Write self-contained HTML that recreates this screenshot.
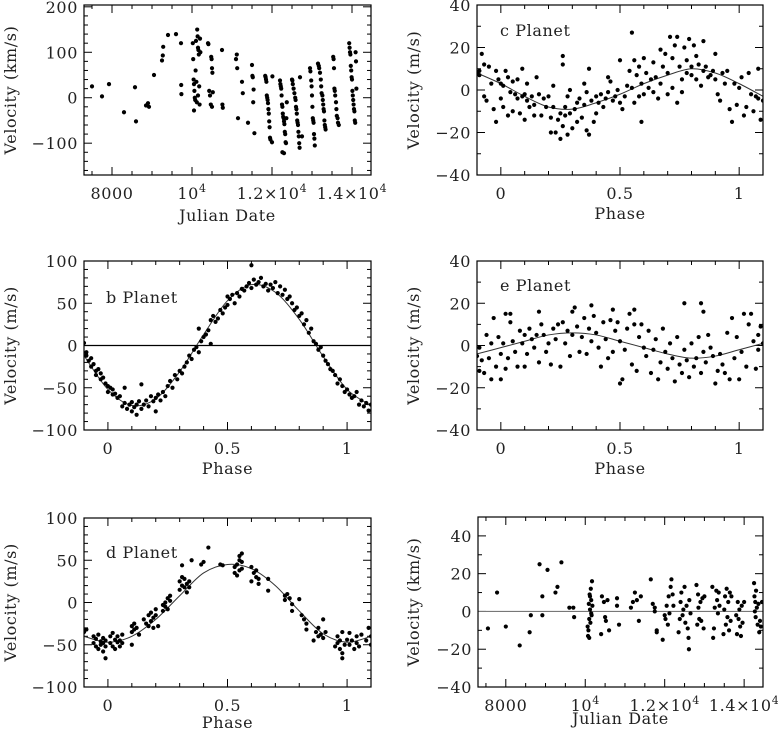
<!DOCTYPE html>
<html><head><meta charset="utf-8">
<style>
html,body{margin:0;padding:0;background:#fff;}
svg{display:block;font-family:"DejaVu Serif","Liberation Serif",serif;}
text{letter-spacing:0.6px;}
</style></head>
<body>
<svg id="fig" width="778" height="730" viewBox="0 0 778 730" xmlns="http://www.w3.org/2000/svg"></svg>
<script>
// ---------- DATA ----------
const jdPoints = [[7500,25],[7750,3],[7925,30],[8300,-32],[8575,23],[8600,-52],[8850,-17],[8900,-12],[8925,-20],[9050,50],[9250,82],[9270,93],[9280,112],[9400,138],[9600,140],[9725,120],[9730,28],[9735,8],
[10020,120],[10030,85],[10040,40],[10050,30],[10060,15],[10050,-28],[10070,0],[10080,-5],[10090,60],[10100,125],[10110,35],[10120,-10],[10130,150],[10140,135],[10150,110],[10160,105],[10170,95],[10180,25],[10190,-15],[10200,130],[10210,100],[10150,5],
[10400,120],[10410,118],[10430,15],[10450,5],[10480,90],[10490,85],[10500,65],[10510,55],[10520,12],[10470,-15],[10500,-20],
[10750,105],[10760,-15],[10770,-22],[11100,85],[11120,95],[11130,65],[11150,-45],[11250,35],[11270,10],[11400,-55],[11500,72],[11510,48],[11520,45],[11530,-10],[11540,18],[11560,-78],
[11830,48],[11840,45],[11850,40],[11860,35],[11870,5],[11880,0],[11890,-5],[11900,-12],[11910,-25],[11920,-35],[11930,-52],[11940,-65],[11950,-88],[11960,-92],[12000,-98],[12010,47],
[12200,38],[12210,30],[12220,25],[12230,20],[12240,5],[12250,-15],[12260,-20],[12270,-35],[12280,-42],[12290,-45],[12300,-52],[12310,-58],[12320,-75],[12330,-80],[12340,-98],[12350,-100],[12260,-120],[12300,-122],[12370,-10],[12360,-45],
[12500,40],[12510,38],[12520,30],[12540,20],[12560,10],[12580,0],[12590,-5],[12600,-20],[12610,-25],[12620,-35],[12630,-50],[12640,-55],[12650,-60],[12660,-75],[12670,-85],[12680,-100],[12690,-110],[12700,45],[12750,-85],
[12950,65],[12960,58],[12980,38],[12990,25],[13000,5],[13010,-20],[13020,-45],[13030,-50],[13040,-55],[13050,-80],[13060,-90],[13070,-105],
[13150,75],[13170,70],[13180,65],[13200,55],[13220,40],[13230,25],[13240,10],[13260,5],[13270,-5],[13280,-15],[13290,-25],[13300,-30],[13310,-50],[13320,-60],[13330,-65],[13340,-70],
[13530,90],[13540,85],[13550,65],[13560,20],[13570,15],[13580,5],[13600,-10],[13610,-25],[13620,-40],[13640,-45],[13650,-55],[13670,-60],
[13930,120],[13940,110],[13950,100],[13960,95],[13970,70],[13980,60],[13990,45],[14000,40],[14010,15],[14020,5],[14030,-5],[14040,-15],[14050,-25],[14060,-30],[14070,-50],[14080,-55],[14090,100],[14100,80],[14110,20]];

const cPoints = [[-0.1,8],[-0.09,9],[-0.09,7],[-0.08,17],[-0.07,12],[-0.07,-3],[-0.06,-5],[-0.05,11],[-0.04,3],[-0.03,-9],[-0.02,9],[-0.02,-15],[-0.01,5],[0,3],[0,-4],[0.01,2],[0.01,-8],[0.02,9],[0.03,-12],[0.03,6],[0.04,-1],[0.05,-10],[0.05,4],[0.06,-2],[0.07,-4],[0.07,5],[0.08,-11],[0.09,10],[0.09,-3],[0.1,-2],[0.1,-14],[0.11,3],[0.11,-5],[0.12,-8],[0.13,-3],[0.14,-7],[0.14,-12],[0.15,6],[0.16,-2],[0.17,-12],[0.18,-4],[0.19,-8],[0.2,-3],[0.21,-13],[0.21,-20],[0.22,2],[0.22,-8],[0.23,-20],[0.24,-14],[0.25,-23],[0.25,-11],[0.26,16],[0.26,12],[0.26,-17],[0.27,-8],[0.27,-12],[0.28,-21],[0.28,-3],[0.29,0],[0.29,-11],[0.3,-18],[0.31,-9],[0.32,-6],[0.32,-15],[0.33,-4],[0.34,-13],[0.35,-7],[0.35,3],[0.36,-19],[0.36,-1],[0.37,-21],[0.37,10],[0.38,-5],[0.39,-15],[0.4,-3],[0.4,-11],[0.41,-6],[0.42,-2],[0.43,-8],[0.44,-4],[0.45,6],[0.45,-1],[0.46,4],[0.47,-5],[0.48,-3],[0.49,0],[0.5,-6],[0.5,14],[0.51,-9],[0.52,-3],[0.53,2],[0.54,9],[0.55,27],[0.55,1],[0.56,-6],[0.56,14],[0.57,7],[0.58,11],[0.58,-3],[0.59,-15],[0.59,3],[0.6,15],[0.6,-2],[0.61,8],[0.62,1],[0.63,5],[0.64,13],[0.64,-1],[0.65,6],[0.66,-4],[0.67,19],[0.67,3],[0.68,11],[0.69,17],[0.7,-2],[0.7,8],[0.71,25],[0.72,15],[0.72,1],[0.73,21],[0.74,25],[0.74,-6],[0.75,11],[0.76,-1],[0.76,5],[0.77,20],[0.78,14],[0.78,8],[0.79,24],[0.8,11],[0.8,7],[0.81,21],[0.82,16],[0.82,5],[0.83,12],[0.84,2],[0.85,23],[0.85,9],[0.86,11],[0.87,6],[0.88,7],[0.89,9],[0.9,5],[0.9,17],[0.91,-2],[0.92,-5],[0.93,8],[0.94,3],[0.95,9],[0.96,-9],[0.97,-15],[0.98,3],[0.99,-7],[1.0,1],[1.01,6],[1.02,-12],[1.03,-8],[1.04,8],[1.05,-2],[1.06,-10],[1.07,-3],[1.08,10],[1.08,-4],[1.09,-14],[1.1,-5]];

const bPoints = [[-0.1,3],[-0.09,-8],[-0.09,-12],[-0.08,-18],[-0.07,-15],[-0.07,-25],[-0.06,-22],[-0.05,-30],[-0.05,-35],[-0.04,-28],[-0.03,-33],[-0.03,-40],[-0.02,-38],[-0.01,-45],[0,-48],[0,-55],[0.01,-50],[0.02,-58],[0.02,-52],[0.03,-57],[0.04,-62],[0.05,-60],[0.06,-72],[0.07,-68],[0.07,-50],[0.08,-75],[0.09,-70],[0.1,-78],[0.1,-67],[0.11,-73],[0.12,-82],[0.12,-70],[0.13,-66],[0.14,-46],[0.14,-75],[0.15,-70],[0.16,-65],[0.17,-72],[0.18,-60],[0.19,-66],[0.2,-78],[0.2,-62],[0.21,-58],[0.22,-65],[0.23,-55],[0.24,-60],[0.25,-48],[0.26,-42],[0.27,-50],[0.28,-35],[0.29,-40],[0.3,-30],[0.31,-33],[0.32,-25],[0.33,-20],[0.34,-12],[0.35,-16],[0.36,-5],[0.37,-2],[0.38,20],[0.38,-8],[0.39,5],[0.4,10],[0.41,13],[0.42,18],[0.43,2],[0.43,30],[0.44,35],[0.45,28],[0.46,32],[0.47,42],[0.48,38],[0.49,45],[0.5,48],[0.5,58],[0.51,55],[0.52,60],[0.53,50],[0.54,62],[0.55,58],[0.56,67],[0.57,65],[0.58,70],[0.59,74],[0.6,95],[0.6,68],[0.61,78],[0.62,72],[0.63,75],[0.64,80],[0.65,70],[0.66,73],[0.67,65],[0.68,72],[0.69,68],[0.7,75],[0.71,62],[0.72,70],[0.73,60],[0.74,66],[0.75,55],[0.76,58],[0.77,50],[0.78,42],[0.79,45],[0.8,35],[0.81,38],[0.82,25],[0.83,30],[0.84,15],[0.85,20],[0.86,5],[0.87,2],[0.88,-5],[0.89,-2],[0.9,-12],[0.91,-18],[0.92,-22],[0.93,-28],[0.94,-30],[0.95,-35],[0.96,-45],[0.97,-40],[0.98,-48],[0.99,-55],[1.0,-52],[1.01,-58],[1.02,-62],[1.03,-60],[1.04,-55],[1.05,-70],[1.06,-65],[1.07,-72],[1.08,-68],[1.09,-77],[1.1,-70]];

const ePoints = [[-0.1,-5],[-0.09,-12],[-0.09,-1],[-0.08,-7],[-0.07,-13],[-0.06,5],[-0.05,-6],[-0.04,-16],[-0.04,1],[-0.03,13],[-0.02,-10],[-0.01,4],[0,-4],[0,-16],[0.01,1],[0.02,15],[0.02,-11],[0.03,-6],[0.04,11],[0.04,15],[0.05,2],[0.06,-3],[0.07,-10],[0.08,7],[0.09,1],[0.1,-10],[0.1,5],[0.11,-4],[0.12,8],[0.13,3],[0.14,-1],[0.15,5],[0.16,16],[0.16,-8],[0.17,10],[0.18,5],[0.19,-3],[0.2,1],[0.21,-9],[0.22,8],[0.23,3],[0.24,10],[0.25,-10],[0.26,11],[0.27,1],[0.28,7],[0.29,-5],[0.3,16],[0.3,5],[0.31,18],[0.32,9],[0.33,-3],[0.34,4],[0.35,13],[0.36,-4],[0.37,8],[0.38,19],[0.38,2],[0.39,14],[0.4,6],[0.41,-1],[0.42,-10],[0.43,11],[0.44,3],[0.45,-6],[0.46,12],[0.47,17],[0.47,-3],[0.48,7],[0.49,11],[0.5,-18],[0.5,2],[0.51,-16],[0.52,-2],[0.53,8],[0.54,15],[0.55,-9],[0.56,10],[0.56,17],[0.57,-12],[0.58,4],[0.59,10],[0.6,-1],[0.61,-5],[0.62,7],[0.63,-13],[0.64,-2],[0.65,3],[0.66,-16],[0.67,-8],[0.68,8],[0.69,-3],[0.7,-11],[0.71,1],[0.72,-6],[0.73,-17],[0.74,4],[0.75,-9],[0.76,-13],[0.77,20],[0.77,-2],[0.78,-7],[0.79,-15],[0.8,1],[0.81,-10],[0.82,-6],[0.83,4],[0.84,20],[0.84,-13],[0.85,16],[0.85,-3],[0.86,-8],[0.87,5],[0.88,-1],[0.89,-5],[0.9,-18],[0.91,-12],[0.92,-4],[0.93,-9],[0.94,-13],[0.95,6],[0.96,-16],[0.97,13],[0.98,-6],[0.99,4],[1.0,-16],[1.01,-3],[1.02,15],[1.03,-10],[1.04,10],[1.05,15],[1.06,2],[1.07,-11],[1.08,5],[1.08,-2],[1.09,9],[1.1,1]];

const dPoints = [[-0.1,-35],[-0.09,-32],[-0.06,-40],[-0.06,-48],[-0.05,-52],[-0.05,-43],[-0.04,-38],[-0.04,-55],[-0.03,-46],[-0.03,-50],[-0.02,-42],[-0.02,-58],[-0.02,-48],[-0.01,-52],[-0.01,-66],[-0.01,-45],[0.01,-40],[0.01,-48],[0.02,-36],[0.02,-52],[0.03,-44],[0.03,-55],[0.04,-47],[0.04,-40],[0.05,-52],[0.05,-45],[0.06,-38],[0.06,-48],[0.1,-35],[0.1,-28],[0.1,-50],[0.11,-32],[0.11,-25],[0.12,-30],[0.13,-38],[0.15,-20],[0.16,-25],[0.17,-15],[0.17,-28],[0.18,-22],[0.18,-12],[0.19,-18],[0.19,-30],[0.2,-8],[0.2,-15],[0.21,-28],[0.23,-10],[0.23,-3],[0.24,-5],[0.24,0],[0.25,5],[0.25,-8],[0.26,2],[0.26,8],[0.3,15],[0.3,25],[0.31,20],[0.31,44],[0.31,30],[0.32,18],[0.32,28],[0.33,22],[0.33,12],[0.34,25],[0.34,18],[0.35,50],[0.39,45],[0.4,48],[0.42,65],[0.47,45],[0.48,44],[0.53,35],[0.53,42],[0.54,32],[0.54,45],[0.55,50],[0.55,38],[0.55,55],[0.56,48],[0.56,40],[0.56,58],[0.6,42],[0.6,25],[0.61,35],[0.62,30],[0.62,38],[0.63,28],[0.63,22],[0.67,28],[0.67,14],[0.74,8],[0.74,3],[0.75,10],[0.76,5],[0.77,-10],[0.77,-2],[0.8,4],[0.81,-15],[0.82,-20],[0.83,-25],[0.83,-32],[0.86,-45],[0.87,-35],[0.88,-40],[0.88,-30],[0.89,-38],[0.9,-20],[0.9,-42],[0.91,-35],[0.95,-52],[0.96,-40],[0.96,-48],[0.97,-55],[0.97,-45],[0.98,-35],[0.98,-60],[0.98,-66],[0.99,-50],[1.0,-44],[1.01,-36],[1.01,-50],[1.02,-45],[1.03,-55],[1.04,-40],[1.04,-48],[1.05,-52],[1.06,-38],[1.08,-45],[1.09,-30],[1.1,-40],[1.1,-50]];

const residPoints = [[7550,-9],[7780,10],[8000,-8],[8350,-18],[8600,-11],[8630,-2],[8850,25],[8920,8],[8920,-2],[9050,22],[9250,10],[9300,13],[9400,26],[9600,2],[9700,2],[9720,-3],[10060,-8],[10070,-13],[10080,-10],[10090,4],[10100,-4],[10110,9],[10120,1],[10130,-6],[10140,12],[10150,6],[10160,-2],[10170,16],[10180,3],[10100,-14],[10150,-1],[10120,8],[10400,-12],[10420,8],[10470,5],[10500,-3],[10520,-5],[10560,6],[10600,-10],[10800,7],[10800,3],[10850,-7],[11150,2],[11200,5],[11250,10],[11300,6],[11350,-5],[11400,8],[11650,17],[11700,4],[11750,0],[11750,2],[11800,-10],[11800,-11],[11950,-15],[12000,-2],[12020,-4],[12050,3],[12080,-7],[12100,8],[12120,-1],[12150,13],[12170,17],[12200,9],[12220,3],[12350,-11],[12380,-4],[12400,5],[12420,10],[12450,-2],[12470,1],[12500,13],[12520,-6],[12550,3],[12580,-9],[12600,-14],[12610,-20],[12620,6],[12650,-1],[12800,14],[12820,-7],[12840,9],[12850,2],[12870,-4],[12900,5],[12920,-5],[12950,7],[12980,-9],[13000,8],[13200,13],[13220,-14],[13240,-9],[13260,2],[13300,11],[13320,6],[13340,-1],[13360,10],[13380,3],[13480,-12],[13500,1],[13520,8],[13540,-7],[13560,12],[13580,-3],[13600,5],[13620,-10],[13640,10],[13660,-5],[13680,8],[13800,-2],[13820,-12],[13840,5],[13860,-4],[13880,1],[13900,-8],[13920,-13],[13940,3],[13960,-6],[14000,5],[14250,15],[14260,8],[14270,0],[14280,5],[14290,-3],[14300,11],[14320,2],[14340,-7],[14360,4],[14380,-11],[14400,-5],[14420,-8],[14450,5]];

// model curves sampled at phases
const curvePhases = [-0.1,0,0.1,0.2,0.3,0.4,0.5,0.6,0.7,0.8,0.9,1.0,1.1];
const cCurve = [8,3,-3,-8,-9,-6,-2,3,7,10,8,3,-3];
const bCurve = [-12,-52,-71,-63,-31,13,53,72,63,31,-13,-52,-71];
const eCurve = [-4,-1,2,5,6,5,2,-1,-4,-6,-5,-2,1];
const dCurve = [-40,-47,-40,-20,8,35,45,40,20,-10,-37,-47,-40];

// tick labels
const jdTicks = [8000,10000,12000,14000];
const jdTickLabels = [["8000"],["10","4"],["1.2×10","4"],["1.4×10","4"]];
const phaseTicks = [0,0.5,1];
const phaseTickLabels = [["0"],["0.5"],["1"]];

// ---------- DRAWING ----------
const NS = "http://www.w3.org/2000/svg";
const svg = document.getElementById('fig');
function mk(tag, attrs, parent){ const e=document.createElementNS(NS,tag); for(const k in attrs) e.setAttribute(k,attrs[k]); (parent||svg).appendChild(e); return e; }

function panel(cfg){
  const g = mk('g',{});
  
  
  const sx = v => cfg.x0 + (v-cfg.xd[0])/(cfg.xd[1]-cfg.xd[0])*(cfg.x1-cfg.x0);
  const sy = v => cfg.y1 - (v-cfg.yd[0])/(cfg.yd[1]-cfg.yd[0])*(cfg.y1-cfg.y0);
  const clipId = 'clip-'+cfg.name;
  const cp = mk('clipPath',{id:clipId},g);
  mk('rect',{x:cfg.x0,y:cfg.y0,width:cfg.x1-cfg.x0,height:cfg.y1-cfg.y0},cp);
  const tk = mk('g',{stroke:'#000','stroke-width':1},g);
  
  
  const eps=1e-9;
  const xmin = Math.ceil(cfg.xd[0]/cfg.xMinor-eps)*cfg.xMinor;
  for(let v=xmin; v<=cfg.xd[1]+eps; v+=cfg.xMinor){
    const major = Math.abs(v/cfg.xMajor - Math.round(v/cfg.xMajor))<1e-6;
    const L = major?8:4, X=sx(v);
    mk('line',{x1:X,x2:X,y1:cfg.y1,y2:cfg.y1-L},tk);
    mk('line',{x1:X,x2:X,y1:cfg.y0,y2:cfg.y0+L},tk);
  }
  const ymin = Math.ceil(cfg.yd[0]/cfg.yMinor-eps)*cfg.yMinor;
  for(let v=ymin; v<=cfg.yd[1]+eps; v+=cfg.yMinor){
    const major = Math.abs(v/cfg.yMajor - Math.round(v/cfg.yMajor))<1e-6;
    const L = major?8:4, Y=sy(v);
    mk('line',{y1:Y,y2:Y,x1:cfg.x0,x2:cfg.x0+L},tk);
    mk('line',{y1:Y,y2:Y,x1:cfg.x1,x2:cfg.x1-L},tk);
  }
  cfg.xTicks.forEach((v,i)=>{
    const t = mk('text',{x:sx(v),y:cfg.y1+24,'text-anchor':'middle','font-size':16,fill:'#222'},g);
    
    
    const parts = cfg.xTickLabels[i];
    const s = mk('tspan',{},t); s.textContent = parts[0];
    if(parts[1]){ const sup = mk('tspan',{'font-size':11,dy:-7},t); sup.textContent = parts[1]; }
  });
  cfg.yTicks.forEach(v=>{
    const t = mk('text',{x:cfg.x0-6,y:sy(v)+6,'text-anchor':'end','font-size':16,fill:'#222'},g);
    
    
    t.textContent = v<0 ? '\u2212'+Math.abs(v) : String(v);
  });
  const xt = mk('text',{x:(cfg.x0+cfg.x1)/2,y:cfg.y1+cfg.xTitleDy,'text-anchor':'middle','font-size':16,fill:'#222'},g);
  
  
  xt.textContent = cfg.xTitle;
  const cy=(cfg.y0+cfg.y1)/2;
  const yt = mk('text',{x:cfg.yTitleX,y:cy,'text-anchor':'middle','font-size':16,fill:'#222',transform:`rotate(-90 ${cfg.yTitleX} ${cy})`},g);
  
  
  yt.textContent = cfg.yTitle;
  if(cfg.hline){
    const hl = mk('line',{x1:cfg.x0,x2:cfg.x1,y1:sy(0),y2:sy(0),stroke:cfg.hline,'stroke-width':1.2},g);
    
    
  }
  if(cfg.curve){
    const P = curvePhases.map((p,i)=>[sx(p),sy(cfg.curve[i])]);
    let d = `M${P[0][0]},${P[0][1]}`;
    for(let i=0;i<P.length-1;i++){
      const p0=P[Math.max(i-1,0)],p1=P[i],p2=P[i+1],p3=P[Math.min(i+2,P.length-1)];
      const c1=[p1[0]+(p2[0]-p0[0])/6,p1[1]+(p2[1]-p0[1])/6];
      const c2=[p2[0]-(p3[0]-p1[0])/6,p2[1]-(p3[1]-p1[1])/6];
      d+=` C${c1[0]},${c1[1]} ${c2[0]},${c2[1]} ${p2[0]},${p2[1]}`;
    }
    const cv = mk('path',{d:d,fill:'none',stroke:'#333','stroke-width':1,'clip-path':`url(#${clipId})`},g);
    
    
  }
  const pg = mk('g',{fill:'#000','clip-path':`url(#${clipId})`},g);
  
  
  cfg.points.forEach(p=>{
    const c = mk('circle',{cx:sx(p[0]),cy:sy(p[1]),r:2.1},pg);
    
    
  });
  const fr = mk('rect',{x:cfg.x0,y:cfg.y0,width:cfg.x1-cfg.x0,height:cfg.y1-cfg.y0,fill:'none',stroke:'#000','stroke-width':1.2},g);
  
  
  if(cfg.label){
    const lb = mk('text',{x:cfg.labelX,y:cfg.labelY,'font-size':16,fill:'#222'},g);
    
    
    lb.textContent = cfg.label;
  }
}

const jdAxis = {xd:[7300,14475],xMajor:2000,xMinor:500,xTicks:jdTicks,xTickLabels:jdTickLabels,xTitle:'Julian Date'};
const phAxis = {xd:[-0.1,1.1],xMajor:0.5,xMinor:0.1,xTicks:phaseTicks,xTickLabels:phaseTickLabels,xTitle:'Phase'};

panel(Object.assign({name:'raw-velocity-panel',x0:84,x1:371,y0:5,y1:175,yd:[-170,204],yMajor:100,yMinor:20,yTicks:[-100,0,100,200],yTitle:'Velocity (km/s)',yTitleX:16,xTitleDy:46,points:jdPoints},jdAxis));
panel(Object.assign({name:'c-planet-panel',x0:477,x1:763,y0:5,y1:175,yd:[-40,40],yMajor:20,yMinor:10,yTicks:[-40,-20,0,20,40],yTitle:'Velocity (m/s)',yTitleX:419,xTitleDy:44,points:cPoints,curve:cCurve,label:'c Planet',labelX:500,labelY:36},phAxis));
panel(Object.assign({name:'b-planet-panel',x0:84,x1:371,y0:261,y1:430,yd:[-100,100],yMajor:50,yMinor:10,yTicks:[-100,-50,0,50,100],yTitle:'Velocity (m/s)',yTitleX:16,xTitleDy:44,points:bPoints,curve:bCurve,hline:'#000',label:'b Planet',labelX:106,labelY:303},phAxis));
panel(Object.assign({name:'e-planet-panel',x0:477,x1:763,y0:261,y1:430,yd:[-40,40],yMajor:20,yMinor:10,yTicks:[-40,-20,0,20,40],yTitle:'Velocity (m/s)',yTitleX:419,xTitleDy:44,points:ePoints,curve:eCurve,label:'e Planet',labelX:500,labelY:291},phAxis));
panel(Object.assign({name:'d-planet-panel',x0:84,x1:371,y0:518,y1:687,yd:[-100,100],yMajor:50,yMinor:10,yTicks:[-100,-50,0,50,100],yTitle:'Velocity (m/s)',yTitleX:16,xTitleDy:41,points:dPoints,curve:dCurve,label:'d Planet',labelX:106,labelY:558},phAxis));
panel(Object.assign({name:'residuals-panel',x0:478,x1:763,y0:517,y1:687,yd:[-40,50],yMajor:20,yMinor:10,yTicks:[-40,-20,0,20,40],yTitle:'Velocity (km/s)',yTitleX:419,xTitleDy:37,points:residPoints,hline:'#777'},jdAxis));
</script>
</body></html>
